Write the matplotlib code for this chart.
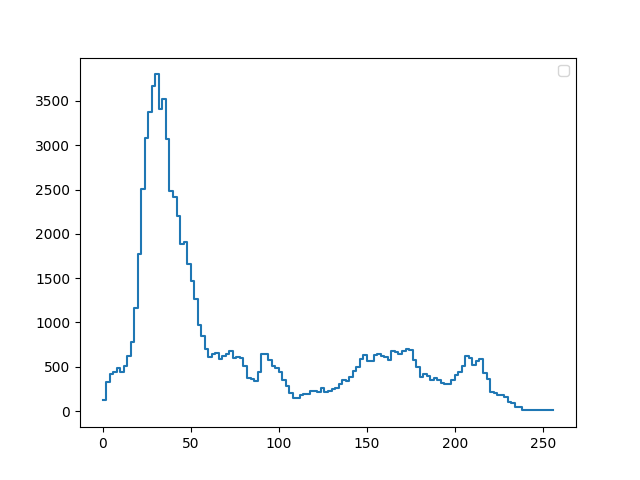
import matplotlib
matplotlib.use("Agg")
import matplotlib.pyplot as plt
import numpy as np

# histogram counts, 128 bins of width 2 covering 0..256
counts = [
    130, 325, 418, 436, 482, 436, 504, 617, 784, 1161,
    1773, 2509, 3086, 3381, 3670, 3800, 3411, 3524, 3071, 2486,
    2411, 2203, 1886, 1908, 1659, 1467, 1263, 966, 844, 695,
    606, 646, 651, 583, 617, 640, 674, 602, 606, 595,
    504, 368, 357, 334, 436, 640, 640, 574, 504, 481,
    436, 345, 278, 198, 142, 142, 176, 187, 187, 221,
    229, 217, 255, 214, 225, 251, 259, 304, 345, 338,
    379, 447, 497, 583, 629, 561, 561, 636, 644, 622,
    610, 576, 674, 663, 648, 682, 704, 685, 580, 493,
    379, 413, 391, 353, 376, 345, 319, 304, 304, 345,
    402, 444, 504, 617, 595, 520, 561, 591, 425, 357,
    214, 202, 176, 176, 153, 101, 85, 40, 40, 17,
    17, 7, 7, 7, 7, 7, 7, 7,
]
bin_edges = np.arange(0, 257, 2)

fig, ax = plt.subplots(figsize=(6.4, 4.8), dpi=100)
ax.step(bin_edges, np.append(counts, counts[-1]), where="post")
ax.legend(handles=[], loc="upper right")

fig.savefig("out.png")
